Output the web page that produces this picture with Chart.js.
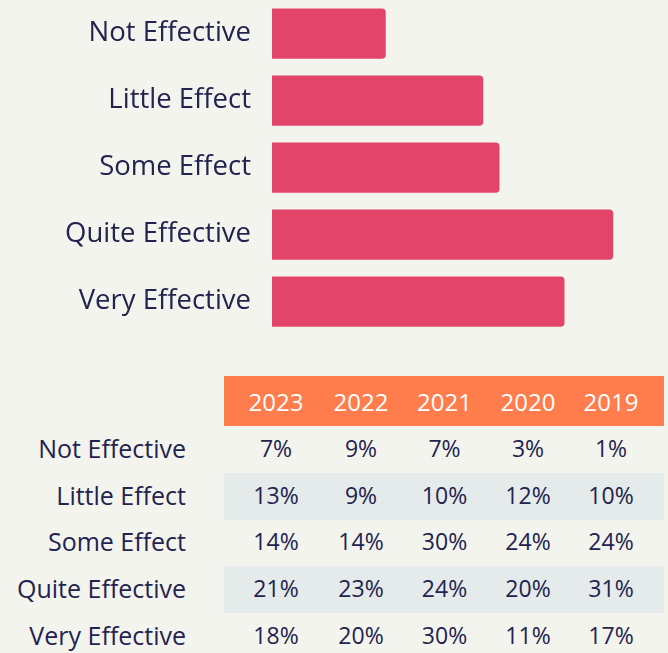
<!DOCTYPE html>
<html>
<head>
<meta charset="utf-8">
<script src="https://cdn.jsdelivr.net/npm/chart.js@4"></script>
<style>
  html, body { margin: 0; padding: 0; background: #f4f4ef; }
  body { width: 668px; height: 653px; position: relative; overflow: hidden; font-family: 'Open Sans', sans-serif; color: #23234f; }
  #wrap { position: absolute; left: 0; top: 0; width: 668px; height: 335px; }
  #tabla { position: absolute; left: 0; top: 376px; border-collapse: collapse; table-layout: fixed; }
  #tabla td, #tabla th { padding: 0; font-weight: 400; font-size: 23px; text-align: center; }
  #tabla th { background: #ff7c4d; color: #ffffff; height: 50px; font-size: 24px; }
  #tabla th.vacio { background: transparent; }
  #tabla td { height: 46.8px; padding-bottom: 3px; box-sizing: border-box; }
  #tabla td.etiqueta { text-align: right; padding-right: 38px; font-size: 25px; }
  #tabla tr.alterna td.valor { background: #e5eaea; }
  #tabla .c0 { padding-left: 9px; }
  #tabla .c4 { padding-right: 12px; }
</style>
</head>
<body>
<div id="wrap"><canvas id="barras"></canvas></div>
<table id="tabla"></table>
<script>
// ==================== DATOS ====================
const categorias = ['Not Effective', 'Little Effect', 'Some Effect', 'Quite Effective', 'Very Effective'];
const anios = ['2023', '2022', '2021', '2020', '2019'];
const v2023 = [7, 13, 14, 21, 18];
const v2022 = [9, 9, 14, 23, 20];
const v2021 = [7, 10, 30, 24, 30];
const v2020 = [3, 12, 24, 20, 11];
const v2019 = [1, 10, 24, 31, 17];
const porAnio = [v2023, v2022, v2021, v2020, v2019];

const colorTexto = '#23234f';
const colorBarra = '#e2446a';

// ==================== GRAFICO ====================
const ctx = document.getElementById('barras').getContext('2d');
new Chart(ctx, {
    type: 'bar',
    data: {
        labels: categorias,
        datasets: [{ data: v2023, backgroundColor: colorBarra, borderRadius: 4, barPercentage: 0.75, categoryPercentage: 1 }]
    },
    options: {
        indexAxis: 'y',
        responsive: true,
        maintainAspectRatio: false,
        animation: false,
        layout: { padding: { top: 0, bottom: 0, left: 0, right: 6 } },
        plugins: { legend: { display: false }, tooltip: { enabled: false } },
        scales: {
            x: { display: false, min: 0, max: 24 },
            y: {
                grid: { display: false, drawTicks: false },
                border: { display: false },
                ticks: { color: colorTexto, padding: 21, font: { family: 'Open Sans', size: 27.5 } },
                // ancho fijo para el eje y sin relleno arriba/abajo
                afterFit: s => { s.width = 272; s.paddingTop = 0; s.paddingBottom = 0; }
            }
        }
    }
});

// ==================== TABLA ====================
const tabla = document.getElementById('tabla');
const anchos = [95, 84, 83, 84, 94];
const cols = document.createElement('colgroup');
cols.innerHTML = '<col style="width:224px">' + anchos.map(w => `<col style="width:${w}px">`).join('');
tabla.appendChild(cols);
const cab = tabla.insertRow();
const vacio = document.createElement('th');
vacio.className = 'vacio';
cab.appendChild(vacio);
anios.forEach((a, j) => {
    const th = document.createElement('th');
    th.className = 'c' + j;
    th.textContent = a;
    cab.appendChild(th);
});
categorias.forEach((c, i) => {
    const fila = tabla.insertRow();
    if (i % 2 === 1) fila.className = 'alterna';
    const et = fila.insertCell();
    et.className = 'etiqueta';
    et.textContent = c;
    porAnio.forEach((serie, j) => {
        const celda = fila.insertCell();
        celda.className = 'valor c' + j;
        celda.textContent = serie[i] + '%';
    });
});
</script>
</body>
</html>
